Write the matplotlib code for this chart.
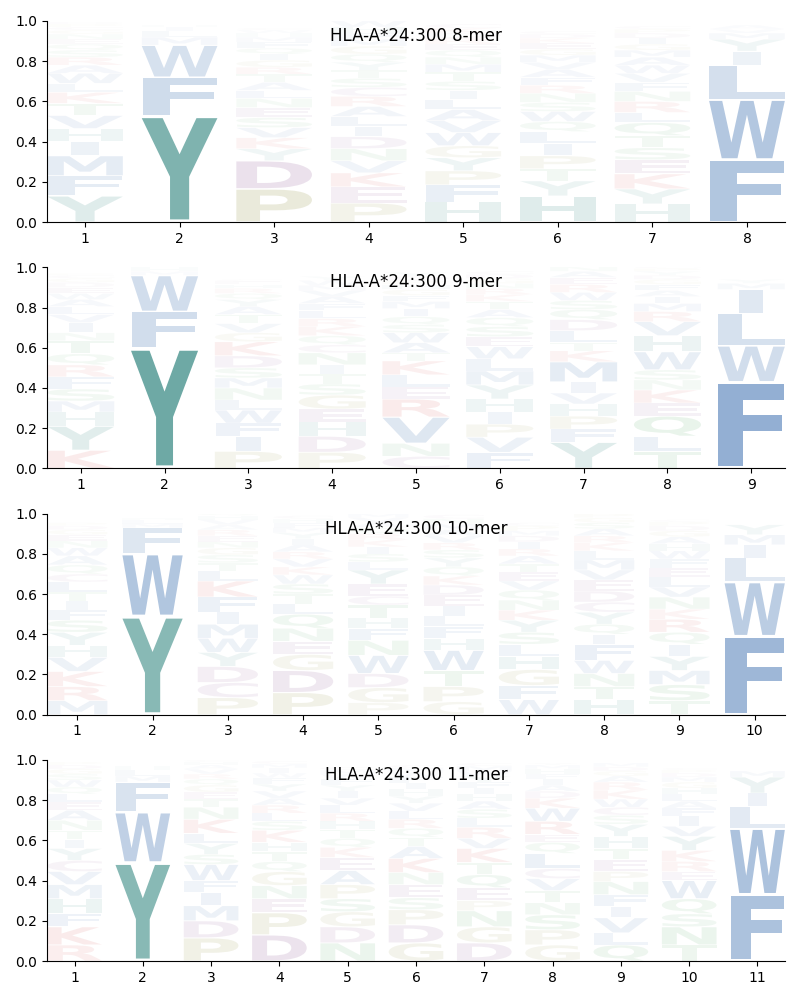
import numpy as np
import matplotlib.pyplot as plt
from matplotlib.textpath import TextPath
from matplotlib.patches import PathPatch
from matplotlib.font_manager import FontProperties
from matplotlib.transforms import Affine2D

allele = "HLA-A*24:300"
lengths = [8, 9, 10, 11]

# letters of each position, listed bottom -> top, with their frequencies
mer8_letters = [
    "YFMIHVTKLWARSQENGCPD",
    "YFWMLIH",
    "PDYKVSENLATRGIQFMHWC",
    "PEKVNDILARCSTYQGMFHW",
    "HFPYGWVALISTMNQERDKC",
    "HYTPILQWSNRFAVMGEKDC",
    "HYKESTQLRNFVWAMGIDPC",
    "FWLIYMVA",
]
mer8_probs = [
    [.13, .10, .10, .07, .065, .065, .06, .055, .045, .05, .04, .04, .035, .03, .025, .025, .02, .015, .015, .01],
    [.53, .19, .16, .04, .03, .02, .01],
    [.165, .14, .06, .055, .05, .05, .05, .045, .04, .04, .04, .035, .035, .03, .03, .03, .025, .02, .015, .01],
    [.095, .08, .07, .06, .06, .06, .05, .05, .05, .05, .045, .045, .04, .04, .04, .04, .035, .03, .03, .03],
    [.10, .085, .07, .065, .06, .065, .06, .055, .05, .045, .045, .045, .04, .035, .035, .03, .03, .025, .025, .02],
    [.13, .075, .06, .065, .06, .06, .05, .05, .045, .045, .04, .04, .04, .035, .035, .03, .03, .025, .02, .015],
    [.09, .075, .075, .07, .06, .06, .065, .05, .055, .05, .045, .045, .04, .04, .035, .03, .03, .025, .02, .015],
    [.31, .30, .17, .07, .06, .03, .02, .02],
]

mer9_letters = [
    "KYHMSFRQTNIVLAWEDGCP",
    "YFWMH",
    "PIFWLNMSDKGVTAYQRHEC",
    "PDHEGSTINCQKRLFAVMWY",
    "CNVREL KTAWSQIMFGHPDY".replace(" ", ""),
    "FVPIHYMLWESQATKRNGDC",
    "YFPHVIMKTLDQSWREANG",
    "TLQEKNSWHVRMIAFGDYPC",
    "FWLIMY",
]
mer9_probs = [
    [.09, .12, .07, .055, .06, .06, .06, .055, .065, .04, .05, .04, .04, .035, .03, .03, .025, .02, .015, .01],
    [.60, .18, .18, .02, .02],
    [.085, .075, .065, .065, .05, .06, .05, .05, .06, .07, .045, .045, .045, .04, .035, .03, .025, .02, .015, .01],
    [.08, .08, .07, .065, .07, .055, .05, .045, .06, .04, .045, .045, .04, .04, .035, .035, .03, .025, .025, .02],
    [.06, .065, .13, .09, .06, .06, .07, .04, .05, .05, .04, .04, .04, .035, .03, .03, .025, .02, .02, .02],
    [.08, .075, .065, .06, .065, .07, .07, .06, .06, .05, .05, .045, .04, .04, .035, .03, .025, .025, .02, .015],
    [.13, .065, .065, .06, .055, .055, .10, .055, .04, .06, .055, .05, .045, .04, .04, .035, .03, .025, .015],
    [.085, .075, .10, .065, .065, .05, .05, .09, .08, .07, .05, .04, .035, .03, .03, .025, .02, .02, .015, .01],
    [.43, .18, .16, .12, .03, .02],
]

mer10_letters = [
    "MRKVHYSFITLCQAWNEGDP",
    "YWFMLH",
    "PCDYWMIFKLTSGNERAVHQ",
    "PDGENQLTSWKVRAIYMFHC",
    "PGDWNFHTCEYLSIKRQAVM",
    "GPTWHFLIEDKQYSRVAMNC",
    "WFGHLSYKNQVETARIDMPC",
    "HTNWFIQYCDEVMLKRASGP",
    "TSMYIQRKNVLEFWHAGDPC",
    "FWLIMY",
]
mer10_probs = [
    [.07, .07, .075, .07, .06, .065, .06, .05, .045, .045, .05, .04, .045, .045, .04, .035, .03, .025, .02, .015],
    [.49, .31, .13, .02, .02, .01],
    [.085, .075, .08, .07, .07, .07, .06, .075, .08, .05, .04, .04, .035, .03, .03, .03, .025, .025, .02, .015],
    [.11, .11, .08, .065, .065, .07, .05, .05, .05, .045, .04, .04, .035, .035, .03, .03, .025, .025, .02, .015],
    [.06, .075, .07, .09, .075, .06, .05, .065, .045, .06, .07, .04, .04, .035, .035, .03, .03, .025, .025, .02],
    [.065, .075, .08, .10, .06, .06, .05, .05, .055, .05, .045, .045, .045, .04, .035, .035, .03, .03, .025, .02],
    [.075, .07, .08, .065, .06, .06, .06, .05, .05, .05, .045, .045, .04, .04, .035, .035, .03, .025, .025, .015],
    [.075, .065, .065, .065, .08, .05, .05, .06, .05, .055, .055, .05, .05, .045, .04, .035, .035, .03, .025, .02],
    [.07, .08, .07, .07, .06, .06, .065, .05, .06, .05, .05, .045, .045, .04, .035, .035, .03, .025, .02, .01],
    [.39, .27, .12, .065, .05, .05],
]

mer11_letters = [
    "RKFHMVCYITNAELQWSGDP",
    "YWFMLH",
    "PDMIFWSYLKNTEGQRVAHC",
    "DPENGQTHKSLRAVYFWIMC",
    "NDGSPAEKQTHRLVIYFWMC",
    "GDPSENKATQRLVYHIFWMC",
    "DGNPEQTKVRLSAHIFYWMC",
    "GPSNTVCLQERWKDAIFHMY",
    "QLVIFNPETHYSCWKRAGDM",
    "TNSQWERKYVIFALHGMDPC",
    "FWLIYM",
]
mer11_probs = [
    [.08, .09, .065, .075, .07, .065, .055, .06, .045, .045, .05, .05, .04, .04, .035, .035, .03, .025, .02, .015],
    [.49, .25, .15, .03, .03, .02],
    [.115, .085, .075, .065, .06, .08, .05, .055, .05, .07, .06, .04, .035, .035, .03, .025, .025, .02, .015, .01],
    [.13, .11, .07, .065, .07, .05, .05, .045, .06, .045, .04, .04, .035, .035, .035, .03, .025, .025, .02, .015],
    [.09, .08, .075, .065, .07, .07, .065, .05, .045, .045, .04, .04, .04, .035, .035, .03, .03, .025, .02, .015],
    [.09, .09, .075, .06, .065, .06, .07, .06, .045, .045, .045, .04, .04, .035, .035, .03, .03, .025, .02, .015],
    [.09, .08, .08, .05, .065, .065, .06, .07, .05, .055, .045, .045, .04, .035, .03, .03, .03, .025, .025, .015],
    [.08, .075, .075, .06, .06, .06, .05, .075, .055, .04, .065, .065, .05, .035, .03, .03, .025, .025, .02, .01],
    [.08, .06, .075, .055, .06, .065, .05, .06, .055, .06, .06, .045, .04, .04, .045, .04, .03, .025, .02, .02],
    [.08, .09, .065, .075, .09, .045, .05, .055, .07, .05, .05, .04, .035, .035, .03, .03, .025, .02, .015, .01],
    [.33, .33, .11, .065, .08, .03],
]

all_letters = [mer8_letters, mer9_letters, mer10_letters, mer11_letters]
all_probs = [mer8_probs, mer9_probs, mer10_probs, mer11_probs]

# colour by residue group
group_colors = {
    "AVILMFW": (0.02, 0.28, 0.60),
    "YH": (0.05, 0.44, 0.41),
    "STNQ": (0.16, 0.58, 0.24),
    "DEC": (0.45, 0.18, 0.48),
    "KR": (0.80, 0.16, 0.16),
    "PG": (0.52, 0.52, 0.16),
}
aa_color = {}
for group, col in group_colors.items():
    for aa in group:
        aa_color[aa] = col

fp = FontProperties(family="DejaVu Sans", weight="bold")
ref_bb = TextPath((0, 0), "E", size=1, prop=fp).get_extents()


def draw_glyph(ax, ch, x, y, height, color, alpha, width=0.8, vpad=0.05):
    path = TextPath((0, 0), ch, size=1, prop=fp)
    bb = path.get_extents()
    hs = min(width / bb.width, width / ref_bb.width)
    cw = hs * bb.width
    h = height * (1 - vpad)
    vs = h / bb.height
    tr = (Affine2D().translate(-bb.x0, -bb.y0).scale(hs, vs)
          .translate(x - cw / 2, y + height * vpad / 2))
    ax.add_patch(PathPatch(tr.transform_path(path), facecolor=color,
                           edgecolor="none", alpha=min(alpha, 1.0)))


fig, axes = plt.subplots(4, 1, figsize=(8, 10))
plt.subplots_adjust(left=0.059, right=0.981, top=0.979, bottom=0.039, hspace=0.225)

for ax, n, letters, probs in zip(axes, lengths, all_letters, all_probs):
    for i in range(n):
        y = 0.0
        for ch, p in zip(letters[i], probs[i]):
            draw_glyph(ax, ch, i + 1, y, p, aa_color[ch], p)
            y += p
    ax.set_xlim(0.6, n + 0.4)
    ax.set_ylim(0, 1)
    ax.set_xticks(range(1, n + 1))
    ax.set_yticks(np.arange(0, 1.01, 0.2))
    ax.spines["top"].set_visible(False)
    ax.spines["right"].set_visible(False)
    ax.text(0.5, 0.925, f"{allele} {n}-mer", transform=ax.transAxes,
            ha="center", va="center", fontsize=12)

plt.savefig("out.png", dpi=100)
